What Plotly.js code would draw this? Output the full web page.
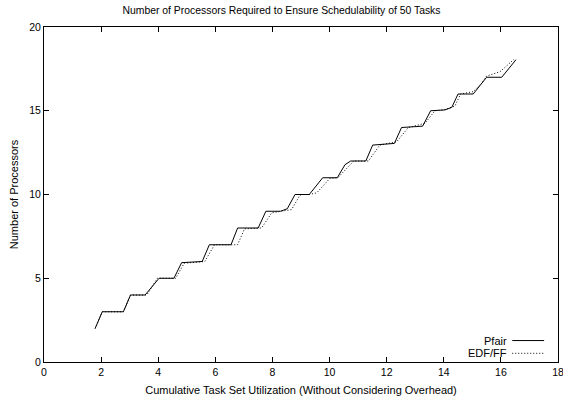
<!DOCTYPE html>
<html>
<head>
<meta charset="utf-8">
<script src="https://cdn.plot.ly/plotly-3.0.1.min.js"></script>
<style>html,body{margin:0;padding:0;background:#fff;}#chart{width:563px;height:400px;}</style>
</head>
<body>
<div id="chart"></div>
<script>
const pfairX = [1.79, 2.04, 2.78, 3.03, 3.54, 4.03, 4.55, 4.82, 5.54, 5.79, 6.55, 6.78, 7.5, 7.77, 8.28, 8.52, 8.79, 9.29, 9.76, 10.27, 10.54, 10.74, 11.27, 11.51, 12.27, 12.52, 13.26, 13.54, 14.04, 14.28, 14.5, 15.03, 15.5, 16.03, 16.53];
const pfairY = [2, 3, 3, 4, 4, 5, 5, 5.93, 6, 7, 7, 8, 8, 9, 9, 9.15, 10, 10, 11, 11, 11.78, 12, 12, 12.95, 13.05, 14, 14.08, 15, 15.05, 15.2, 16, 16, 17, 17, 18.05];
const edfX = [1.79, 2.04, 2.78, 3.03, 3.6, 3.97, 4.61, 4.91, 5.63, 5.97, 6.78, 7.02, 7.62, 7.97, 8.3, 8.67, 8.96, 9.02, 9.3, 9.55, 10.01, 10.29, 10.77, 10.85, 11.36, 11.76, 12.35, 12.76, 13.34, 13.69, 14.0, 14.39, 14.59, 15.03, 15.32, 15.5, 15.97, 16.46];
const edfY = [2, 3, 3, 4, 4, 5, 5, 5.9, 6, 7, 7, 7.95, 8, 8.9, 9, 9.1, 9.95, 10, 10, 10.1, 10.96, 11, 11.86, 12, 12, 12.95, 13.15, 14, 14.25, 15, 15.05, 15.28, 16, 16.14, 16.63, 17.07, 17.33, 18.07];
const seriesNames = ["Pfair", "EDF/FF"];
const xTicks = [0, 2, 4, 6, 8, 10, 12, 14, 16, 18];
const yTicks = [0, 5, 10, 15, 20];

const fam = "Liberation Sans, Arial, sans-serif";
const tickFont = {family: fam, size: 10.5, color: "#000"};
const labelFont = {family: fam, size: 11, color: "#000"};
const titleFont = {family: fam, size: 10.4, color: "#000"};

const traces = [
  {x: pfairX, y: pfairY, name: seriesNames[0], mode: "lines", line: {color: "#000", width: 1}},
  {x: edfX, y: edfY, name: seriesNames[1], mode: "lines", line: {color: "#000", width: 1, dash: "1px,2px"}}
];

const axisCommon = {
  showline: true, linecolor: "#000", linewidth: 1, mirror: "allticks",
  ticks: "inside", ticklen: 5, tickcolor: "#000", tickwidth: 1,
  showgrid: false, zeroline: false, tickfont: tickFont, ticklabeloverflow: "allow"
};

const layout = {
  width: 563, height: 400,
  margin: {l: 44, r: 5, t: 27, b: 38},
  paper_bgcolor: "#fff", plot_bgcolor: "#fff",
  font: labelFont,
  showlegend: false,
  title: {text: "Number of Processors Required to Ensure Schedulability of 50 Tasks", font: titleFont, x: 0.5, xanchor: "center", y: 0.974, yanchor: "middle"},
  xaxis: Object.assign({}, axisCommon, {range: [0, 18], tickvals: xTicks, ticktext: xTicks.map(String),
    title: {text: "Cumulative Task Set Utilization (Without Considering Overhead)", font: labelFont, standoff: 9}}),
  yaxis: Object.assign({}, axisCommon, {range: [0, 20], tickvals: yTicks, ticktext: yTicks.map(String),
    title: {text: "Number of Processors", font: labelFont, standoff: 8}}),
  annotations: [
    {xref: "paper", yref: "paper", x: 0.903, y: 0.064, xanchor: "right", yanchor: "middle", text: seriesNames[0], showarrow: false, font: labelFont, borderpad: 0},
    {xref: "paper", yref: "paper", x: 0.903, y: 0.026, xanchor: "right", yanchor: "middle", text: seriesNames[1], showarrow: false, font: labelFont, borderpad: 0}
  ],
  shapes: [
    {type: "line", xref: "paper", yref: "paper", x0: 0.911, x1: 0.973, y0: 0.064, y1: 0.064, line: {color: "#000", width: 1}},
    {type: "line", xref: "paper", yref: "paper", x0: 0.911, x1: 0.973, y0: 0.026, y1: 0.026, line: {color: "#000", width: 1, dash: "1px,2px"}}
  ]
};

Plotly.newPlot("chart", traces, layout, {displayModeBar: false, staticPlot: true});
</script>
</body>
</html>
